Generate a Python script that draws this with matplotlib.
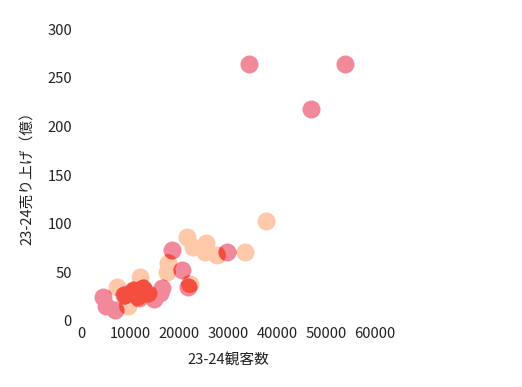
import numpy as np
import matplotlib.pyplot as plt
from matplotlib.path import Path
from matplotlib.transforms import IdentityTransform

plt.rcParams['font.family'] = ['Noto Sans CJK JP', 'DejaVu Sans']

# peach group
peach_x = [37630, 33390, 21530, 22760, 25420, 25210, 27670, 17650, 17440,
           22150, 7220, 11920, 9470, 9060, 10700, 12740, 11510, 13600]
peach_y = [102.6, 70.4, 85.7, 75.9, 80.0, 70.7, 67.6, 59.4, 50.2,
           37.8, 34.7, 45.0, 15.1, 25.4, 30.6, 31.6, 24.4, 28.0]

# pink group
pink_x = [34270, 53840, 46830, 29780, 18470, 20510, 21740, 16420, 4360,
          4970, 6810, 8650, 10490, 12540, 11720, 14170, 16010, 14760]
pink_y = [264.0, 264.0, 217.6, 71.0, 72.8, 52.2, 34.7, 33.7, 24.4,
          15.1, 11.0, 26.5, 31.6, 33.7, 23.4, 25.4, 28.5, 22.4]

x_ticks = [0, 10000, 20000, 30000, 40000, 50000, 60000]
y_ticks = [0, 50, 100, 150, 200, 250, 300]

PEACH = '#ffc8a8'
PINK = '#f2899a'
RED = '#f44e3f'
S = 168
FS = 10.6

fig = plt.figure(figsize=(5.22, 3.87), dpi=100)
ax = fig.add_axes([0.1565, 0.1713, 0.5619, 0.7530])
ax.set_xlim(0, 60000)
ax.set_ylim(0, 300)

ax.scatter(peach_x, peach_y, s=S, c=PEACH, linewidths=0, clip_on=False)
ax.scatter(pink_x, pink_y, s=S, c=PINK, linewidths=0, clip_on=False)

# where pink sits over peach the colours multiply into red
r = np.sqrt(S) / 72 * fig.dpi / 2
centers = ax.transData.transform(np.column_stack([peach_x, peach_y]))
for cx, cy in centers:
    sc = ax.scatter(pink_x, pink_y, s=S, c=RED, linewidths=0)
    sc.set_clip_path(Path.circle((cx, cy), r), IdentityTransform())

ax.set_xticks(x_ticks)
ax.set_yticks(y_ticks)
ax.set_xticklabels([str(v) for v in x_ticks])
ax.set_yticklabels([str(v) for v in y_ticks])
ax.tick_params(axis='both', length=0, labelsize=FS, colors='#222222')
ax.tick_params(axis='y', pad=7)
ax.tick_params(axis='x', pad=4.5)
for sp in ax.spines.values():
    sp.set_visible(False)

ax.set_xlabel('23-24観客数', fontsize=FS, color='#222222', labelpad=8.5)
ax.set_ylabel('23-24売り上げ（億）', fontsize=FS, color='#222222', labelpad=9)

fig.savefig('out.png', dpi=100)
